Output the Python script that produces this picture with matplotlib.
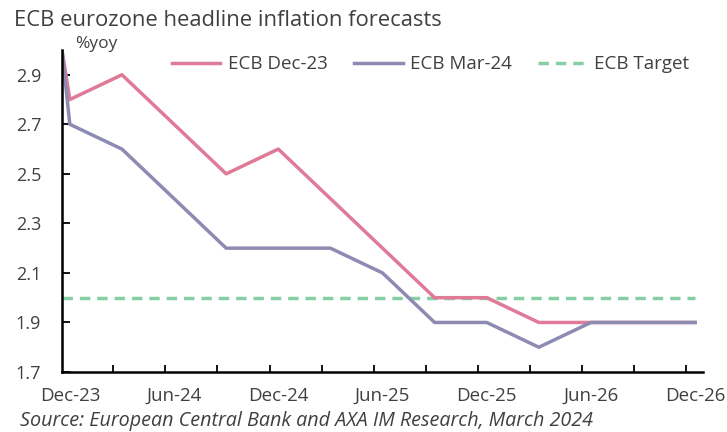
import matplotlib.pyplot as plt

# x in months after Dec-23 (first point sits at the axis edge)
months = [-0.45, 0, 3, 6, 9, 12, 15, 18, 21, 24, 27, 30, 33, 36]
dec23 = [3.0, 2.8, 2.9, 2.7, 2.5, 2.6, 2.4, 2.2, 2.0, 2.0, 1.9, 1.9, 1.9, 1.9]
mar24 = [3.0, 2.7, 2.6, 2.4, 2.2, 2.2, 2.2, 2.1, 1.9, 1.9, 1.8, 1.9, 1.9, 1.9]
target = [2.0] * len(months)

tick_pos = [0, 6, 12, 18, 24, 30, 36]
tick_lab = ['Dec-23', 'Jun-24', 'Dec-24', 'Jun-25', 'Dec-25', 'Jun-26', 'Dec-26']
yticks = [1.7, 1.9, 2.1, 2.3, 2.5, 2.7, 2.9]

plt.rcParams['font.family'] = ['Open Sans', 'DejaVu Sans']
txt = '#404040'

fig = plt.figure(figsize=(7.27, 4.32), dpi=100)
ax = fig.add_axes([62/727, 60/432, (703-62)/727, (372-50)/432])

ax.plot(months, target, '--', color='#86cfa5', lw=2.5, label='ECB Target', dashes=(3, 2))
ax.plot(months, dec23, '-', color='#e07a99', lw=2.5, label='ECB Dec-23')
ax.plot(months, mar24, '-', color='#8e8bb3', lw=2.5, label='ECB Mar-24')

ax.set_xlim(-0.45, 36.45)
ax.set_ylim(1.7, 3.0)
ax.set_yticks(yticks)
ax.set_yticklabels(['%.1f' % v for v in yticks])
ax.set_xticks(tick_pos)
ax.set_xticklabels(tick_lab)
ax.set_xticks([2.5 + 3 * k for k in range(12)], minor=True)
ax.tick_params(axis='x', which='major', length=0, pad=11, labelsize=13.5, colors=txt)
ax.tick_params(axis='x', which='minor', direction='in', length=5, width=1.3, color='black')
ax.tick_params(axis='y', direction='in', length=6, width=1.3, color='black', labelsize=13,
               labelcolor=txt, pad=15)

for s in ['top', 'right']:
    ax.spines[s].set_visible(False)
for s in ['left', 'bottom']:
    ax.spines[s].set_linewidth(1.8)
    ax.spines[s].set_color('black')

h, l = ax.get_legend_handles_labels()
order = [1, 2, 0]
leg = ax.legend([h[i] for i in order], [l[i] for i in order], ncol=3, frameon=False,
                loc='center', bbox_to_anchor=(0.575, 0.955), fontsize=13.5,
                handlelength=2.6, columnspacing=1.4, handletextpad=0.4)
for t in leg.get_texts():
    t.set_color(txt)

fig.text(75/727, 1 - 52/432, '%yoy', fontsize=12.5, color=txt, va='bottom')
fig.text(14/727, 1 - 20/432, 'ECB eurozone headline inflation forecasts', fontsize=15.8,
         color=txt, va='center')
fig.text(20/727, 1 - 421/432, 'Source: European Central Bank and AXA IM Research, March 2024',
         fontsize=14.2, style='italic', color=txt, va='center')

plt.savefig('out.png', dpi=100)
